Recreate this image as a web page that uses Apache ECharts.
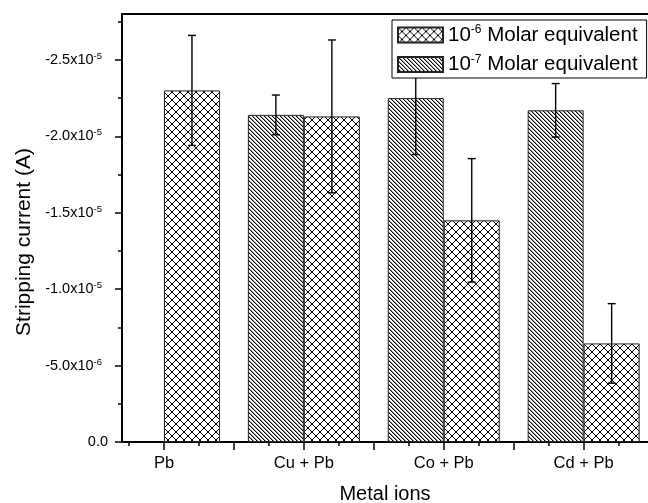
<!DOCTYPE html>
<html><head><meta charset="utf-8">
<script src="https://cdn.jsdelivr.net/npm/echarts@6/dist/echarts.min.js"></script>
<style>html,body{margin:0;padding:0;background:#fff}#c{width:648px;height:503px}</style>
</head><body><div id="c"></div>
<script>
// ---- data ----
const categories = ['Pb', 'Cu + Pb', 'Co + Pb', 'Cd + Pb'];
const seriesNames = ['10^-7 Molar equivalent', '10^-6 Molar equivalent'];
const legendOrder = ['10^-6 Molar equivalent', '10^-7 Molar equivalent'];
const values7 = [null, -2.14e-5, -2.25e-5, -2.17e-5];
const errors7 = [null, 0.13e-5, 0.37e-5, 0.175e-5];
const values6 = [-2.30e-5, -2.13e-5, -1.45e-5, -0.645e-5];
const errors6 = [0.36e-5, 0.50e-5, 0.404e-5, 0.26e-5];
const yTickValues = [0, -5e-6, -1e-5, -1.5e-5, -2e-5, -2.5e-5];
const yTickLabels = ['0.0', '-5.0x10^-6', '-1.0x10^-5', '-1.5x10^-5', '-2.0x10^-5', '-2.5x10^-5'];
const yMinorTicks = [-2.5e-6, -7.5e-6, -1.25e-5, -1.75e-5, -2.25e-5, -2.75e-5];
const xLabelTicks = [1, 2, 3, 4];
const xMajorTicks = [1, 1.5, 2, 2.5, 3, 3.5, 4];
const xMinorTicks = [0.75, 1.25, 1.75, 2.25, 2.75, 3.25, 3.75, 4.25];

// ---- styling helpers ----
const FONT = '"Liberation Sans", Arial, Helvetica, sans-serif';
const BAR_W = 56;

function makeCross() {
  const s = 8, c = document.createElement('canvas');
  c.width = c.height = s;
  const g = c.getContext('2d');
  g.fillStyle = '#fff'; g.fillRect(0, 0, s, s);
  g.fillStyle = '#000';
  for (let i = 0; i < s; i++) { g.fillRect(i, i, 1, 1); g.fillRect(s - 1 - i, i, 1, 1); }
  return c;
}
function makeDiag() {
  const s = 4, c = document.createElement('canvas');
  c.width = c.height = s;
  const g = c.getContext('2d');
  g.fillStyle = '#fff'; g.fillRect(0, 0, s, s);
  for (let i = 0; i < s; i++) {
    g.fillStyle = '#000'; g.fillRect(i, i, 1, 1);
    g.fillStyle = '#9a9a9a'; g.fillRect((i + 1) % s, i, 1, 1);
  }
  return c;
}
const crossFill = { image: makeCross(), repeat: 'repeat' };
const diagFill = { image: makeDiag(), repeat: 'repeat' };

function richSup(txt, base, sup) {
  const p = txt.split('^');
  if (p.length < 2) return '{' + base + '|' + txt + '}';
  const rest = p[1].split(' ');
  const tail = rest.slice(1).join(' ');
  return '{' + base + '|' + p[0] + '}{' + sup + '|' + rest[0] + '}' + (tail ? '{' + base + '| ' + tail + '}' : '');
}

function errorRenderer(sign) {
  return function (params, api) {
    const x = api.value(0), y = api.value(1), e = api.value(2);
    const hi = api.coord([x, y - e]);
    const lo = api.coord([x, y + e]);
    const cx = hi[0] + sign * BAR_W / 2;
    const cap = 4;
    const st = { stroke: '#000', lineWidth: 1.4 };
    return {
      type: 'group', children: [
        { type: 'line', shape: { x1: cx, y1: hi[1], x2: cx, y2: lo[1] }, style: st },
        { type: 'line', shape: { x1: cx - cap, y1: hi[1], x2: cx + cap, y2: hi[1] }, style: st },
        { type: 'line', shape: { x1: cx - cap, y1: lo[1], x2: cx + cap, y2: lo[1] }, style: st }
      ]
    };
  };
}

const barData7 = categories.map((c, i) => [i + 1, values7[i] == null ? '-' : values7[i]]);
const barData6 = categories.map((c, i) => [i + 1, values6[i] == null ? '-' : values6[i]]);
const errData7 = categories.map((c, i) => [i + 1, values7[i], errors7[i]]).filter(d => d[1] != null);
const errData6 = categories.map((c, i) => [i + 1, values6[i], errors6[i]]).filter(d => d[1] != null);

const axisLineStyle = { color: '#000', width: 2 };
const xCommon = { type: 'value', min: 0.7, max: 4.46, splitLine: { show: false } };
const yCommon = { type: 'value', min: -2.8e-5, max: 0, inverse: true, splitLine: { show: false } };

const chart = echarts.init(document.getElementById('c'), null, { renderer: 'canvas' });
chart.setOption({
  animation: false,
  backgroundColor: '#fff',
  textStyle: { fontFamily: FONT },
  grid: { left: 122, right: 0, top: 14, bottom: 61, containLabel: false, outerBoundsMode: 'none' },
  legend: {
    data: legendOrder,
    orient: 'vertical',
    left: 392, top: 20,
    icon: 'rect',
    backgroundColor: '#fff',
    borderColor: '#000', borderWidth: 1, borderRadius: 0,
    padding: [4, 9, 3, 5],
    itemWidth: 45, itemHeight: 15, itemGap: 8, itemTextGap: 6,
    formatter: name => richSup(name, 'b', 's'),
    textStyle: {
      color: '#000', fontFamily: FONT,
      rich: {
        b: { fontSize: 20.5, lineHeight: 22, color: '#000', fontFamily: FONT },
        s: { fontSize: 12, lineHeight: 12, verticalAlign: 'top', color: '#000', fontFamily: FONT }
      }
    }
  },
  xAxis: [
    Object.assign({}, xCommon, {
      position: 'bottom',
      name: 'Metal ions', nameLocation: 'middle', nameGap: 42,
      nameTextStyle: { fontSize: 20, color: '#000', fontFamily: FONT },
      axisLine: { show: true, lineStyle: axisLineStyle },
      axisTick: { show: true, customValues: xMajorTicks, length: 8, lineStyle: { color: '#000', width: 1.5 } },
      axisLabel: {
        customValues: xLabelTicks, margin: 13, fontSize: 16.5, color: '#000', fontFamily: FONT,
        formatter: v => categories[Math.round(v) - 1] || ''
      }
    }),
    Object.assign({}, xCommon, {
      position: 'bottom',
      axisLine: { show: false },
      axisTick: { show: true, customValues: xMinorTicks, length: 4, lineStyle: { color: '#000', width: 1.5 } },
      axisLabel: { show: false }
    }),
    Object.assign({}, xCommon, {
      position: 'top',
      axisLine: { show: true, lineStyle: axisLineStyle },
      axisTick: { show: false },
      axisLabel: { show: false }
    })
  ],
  yAxis: [
    Object.assign({}, yCommon, {
      position: 'left',
      name: 'Stripping current (A)', nameLocation: 'middle', nameGap: 86,
      nameTextStyle: { fontSize: 21, color: '#000', fontFamily: FONT, padding: [0, 28, 0, 0] },
      axisLine: { show: true, lineStyle: axisLineStyle },
      axisTick: { show: true, customValues: yTickValues, length: 7, lineStyle: { color: '#000', width: 1.5 } },
      axisLabel: {
        customValues: yTickValues, margin: 14, color: '#000', fontFamily: FONT,
        formatter: v => {
          const i = yTickValues.findIndex(t => Math.abs(t - v) < 1e-12);
          return i < 0 ? '' : richSup(yTickLabels[i], 'a', 'e');
        },
        rich: {
          a: { fontSize: 14.5, lineHeight: 17, color: '#000', fontFamily: FONT },
          e: { fontSize: 9.5, lineHeight: 10, verticalAlign: 'top', padding: [0, 6, 0, 0], color: '#000', fontFamily: FONT }
        }
      }
    }),
    Object.assign({}, yCommon, {
      position: 'left',
      axisLine: { show: false },
      axisTick: { show: true, customValues: yMinorTicks, length: 4, lineStyle: { color: '#000', width: 1.5 } },
      axisLabel: { show: false }
    })
  ],
  series: [
    {
      name: seriesNames[0], type: 'bar', xAxisIndex: 0, yAxisIndex: 0,
      data: barData7, barWidth: BAR_W, barGap: '0%',
      itemStyle: { color: diagFill, borderColor: '#222', borderWidth: 1 }
    },
    {
      name: seriesNames[1], type: 'bar', xAxisIndex: 0, yAxisIndex: 0,
      data: barData6, barWidth: BAR_W, barGap: '0%',
      itemStyle: { color: crossFill, borderColor: '#222', borderWidth: 1 }
    },
    {
      name: 'err7', type: 'custom', xAxisIndex: 0, yAxisIndex: 0, z: 3,
      renderItem: errorRenderer(-1), data: errData7
    },
    {
      name: 'err6', type: 'custom', xAxisIndex: 0, yAxisIndex: 0, z: 3,
      renderItem: errorRenderer(1), data: errData6
    }
  ]
});
</script>
</body></html>
